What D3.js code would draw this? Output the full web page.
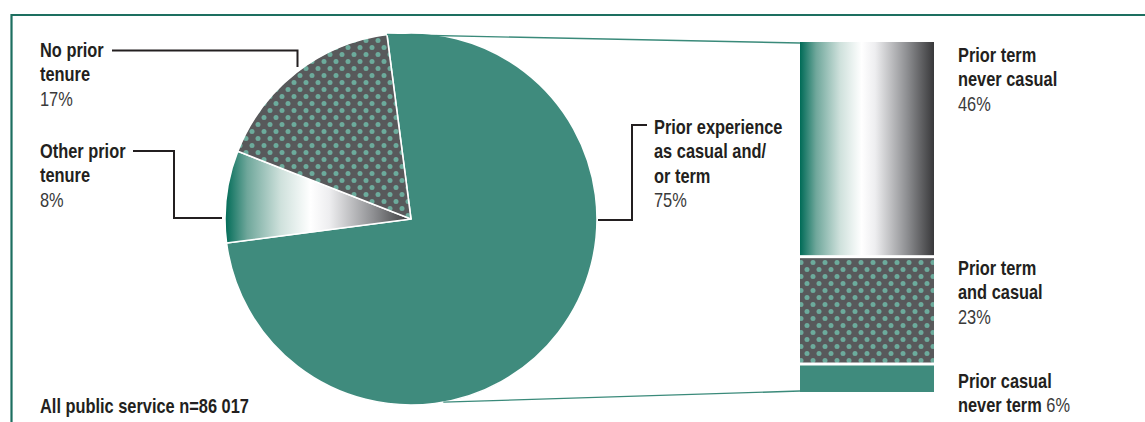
<!DOCTYPE html>
<html>
<head>
<meta charset="utf-8">
<script src="https://cdn.jsdelivr.net/npm/d3@7"></script>
<style>
    body { margin: 0; background: #fff; }
    svg { display: block; }
    .lab { font-family: "Liberation Sans", Arial, sans-serif; font-size: 20px; fill: #231f20; }
    .b { font-weight: bold; }
    .pct { font-weight: normal; fill: #3a3a3a; }
</style>
</head>
<body>
<div id="container"><svg></svg></div>
<script>
let width = 1145;
let height = 422;

// data
let pie_labels = [['Prior experience', 'as casual and/', 'or term'], ['Other prior', 'tenure'], ['No prior', 'tenure']];
let pie_values = [75, 8, 17];
let pie_fills = ['solid', 'grad', 'dots'];
let bar_labels = [['Prior term', 'never casual'], ['Prior term', 'and casual'], ['Prior casual', 'never term']];
let bar_values = [46, 23, 6];
let bar_fills = ['grad', 'dots', 'solid'];
let note = 'All public service n=86 017';

let teal = '#3f8b7d';
let squeeze = 0.82;   // condensed look

function draw() {
    let svg = d3.select('#container').select('svg')
        .attr('width', width)
        .attr('height', height);
    let defs = svg.append('defs');

    // dotted pattern
    let pw = 12, ph = 14, dr = 2.5;
    let pat = defs.append('pattern')
        .attr('id', 'dots')
        .attr('patternUnits', 'userSpaceOnUse')
        .attr('width', pw)
        .attr('height', ph);
    pat.append('rect').attr('width', pw).attr('height', ph).attr('fill', '#58595b');
    [[pw / 4, ph / 4], [pw * 3 / 4, ph * 3 / 4]].forEach(p => {
        pat.append('circle').attr('cx', p[0]).attr('cy', p[1]).attr('r', dr).attr('fill', '#6cab9c');
    });

    function make_grad(id, x1, x2) {
        let g = defs.append('linearGradient')
            .attr('id', id)
            .attr('gradientUnits', 'userSpaceOnUse')
            .attr('x1', x1).attr('x2', x2)
            .attr('y1', 0).attr('y2', 0);
        let stops = [[0, '#006b57'], [0.12, '#6fa79b'], [0.3, '#cfe1dc'], [0.46, '#ffffff'], [0.56, '#eeeef0'], [0.8, '#8d8e91'], [1, '#38383a']];
        stops.forEach(s => g.append('stop').attr('offset', s[0]).attr('stop-color', s[1]));
    }

    // frame
    svg.append('path')
        .attr('d', 'M11.5,440 V15 H1160')
        .attr('fill', 'none')
        .attr('stroke', '#1d6f60')
        .attr('stroke-width', 2.2);

    // pie
    let cx = 411, cy = 219, r = 186;
    let start = -7.43 * Math.PI / 180;
    let pie = d3.pie().sort(null).value(d => d)
        .startAngle(start).endAngle(start + 2 * Math.PI);
    let arcs = pie(pie_values);
    let arc = d3.arc().innerRadius(0).outerRadius(r);
    // pie paths live in a translated group, so gradient runs -r..0 there
    make_grad('pgrad', -r, 0);
    make_grad('bgrad', 800, 934);

    function fill_of(kind, gid) {
        if (kind == 'solid') return teal;
        if (kind == 'dots') return 'url(#dots)';
        return 'url(#' + gid + ')';
    }

    let pg = svg.append('g').attr('transform', `translate(${cx},${cy})`);
    pg.selectAll('path')
        .data(arcs)
        .enter()
        .append('path')
        .attr('d', arc)
        .attr('fill', (d, i) => fill_of(pie_fills[i], 'pgrad'))
        .attr('stroke', '#fff')
        .attr('stroke-width', 1.6)
        .attr('stroke-linejoin', 'round');

    // bar
    let y = d3.scaleLinear().domain([0, d3.sum(bar_values)]).range([42, 392]);
    let x0 = 800, x1 = 934;
    let acc = 0;
    let segs = bar_values.map(v => { let s = {y0: acc, y1: acc + v}; acc += v; return s; });
    svg.append('g').selectAll('rect')
        .data(segs)
        .enter()
        .append('rect')
        .attr('x', x0)
        .attr('width', x1 - x0)
        .attr('y', (d, i) => y(d.y0) + (i > 0 ? 1.5 : 0))
        .attr('height', (d, i) => y(d.y1) - y(d.y0) - (i > 0 ? 1.5 : 0) - (i < segs.length - 1 ? 1.5 : 0))
        .attr('fill', (d, i) => fill_of(bar_fills[i], 'bgrad'));

    // connector lines
    let a_top = arcs[0].startAngle;
    let a_bot = 170 * Math.PI / 180;
    svg.append('line')
        .attr('x1', cx + r * Math.sin(a_top)).attr('y1', cy - r * Math.cos(a_top))
        .attr('x2', x0).attr('y2', y(0) + 1)
        .attr('stroke', '#3a8a7a').attr('stroke-width', 1.4);
    svg.append('line')
        .attr('x1', cx + r * Math.sin(a_bot)).attr('y1', cy - r * Math.cos(a_bot))
        .attr('x2', x0).attr('y2', y(d3.sum(bar_values)) - 1)
        .attr('stroke', '#3a8a7a').attr('stroke-width', 1.4);

    // leader lines
    let leaders = [
        [[598, 220], [632, 220], [632, 125], [647, 125]],
        [[133, 151], [174, 151], [174, 218], [222, 218]],
        [[112, 50.5], [297.5, 50.5], [297.5, 67]]
    ];
    leaders.forEach(pts => {
        svg.append('path')
            .attr('d', d3.line()(pts))
            .attr('fill', 'none')
            .attr('stroke', '#231f20')
            .attr('stroke-width', 2);
    });

    let lh = 24.5;
    function label(x, yy, lines, pct, inline) {
        let t = svg.append('text').attr('class', 'lab')
            .attr('transform', `translate(${x},${yy}) scale(${squeeze},1)`);
        lines.forEach((l, j) => {
            t.append('tspan').attr('class', 'b')
                .attr('x', 0).attr('y', j * lh).text(l);
        });
        if (pct == null) return;
        if (inline) {
            t.append('tspan').attr('class', 'pct').text(' ' + pct + '%');
        } else {
            t.append('tspan').attr('class', 'pct')
                .attr('x', 0).attr('y', lines.length * lh).text(pct + '%');
        }
    }

    // pie labels
    let pie_pos = [[654, 134], [40, 158], [40, 57]];
    pie_labels.forEach((lines, i) => label(pie_pos[i][0], pie_pos[i][1], lines, pie_values[i], false));

    // bar labels
    let bar_pos = [[958, 62], [958, 275], [958, 388]];
    bar_labels.forEach((lines, i) => label(bar_pos[i][0], bar_pos[i][1], lines, bar_values[i], i == bar_labels.length - 1));

    label(40, 413, [note], null, false);
}

draw();
</script>
</body>
</html>
